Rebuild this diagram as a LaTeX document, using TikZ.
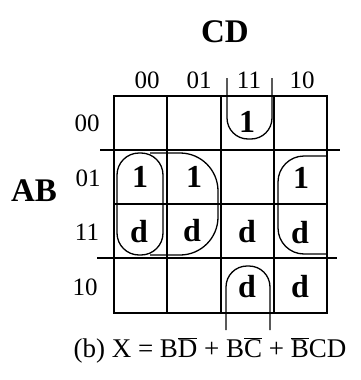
\documentclass[tikz,border=0pt]{standalone}
\usepackage{fontspec}
\setmainfont{Liberation Serif}
\begin{document}
\begin{tikzpicture}[x=1pt,y=-1pt,
  gridline/.style={line width=2.8pt},
  grp/.style={line width=1.3pt},
  cellval/.style={font=\fontsize{32}{32}\selectfont\bfseries, inner sep=0pt},
  idx/.style={font=\fontsize{25}{25}\selectfont, inner sep=0pt},
  varlbl/.style={font=\fontsize{33}{33}\selectfont\bfseries, inner sep=0pt}]
\useasboundingbox (0,0) rectangle (360,380);
% grid
\coordinate (g00) at (114,96);
\coordinate (g11) at (327,313);
\draw[gridline] (g00) rectangle (g11);
\foreach \xx in {167,221,274} \draw[gridline] (\xx,96) -- (\xx,313);
\draw[gridline] (114,204) -- (327,204);
\draw[gridline] (100,150) -- (340,150);
\draw[gridline] (97,258) -- (337,258);
% labels
\node[varlbl] (cd) at (225,32) {CD};
\node[varlbl] (ab) at (34,191) {AB};
\node[idx] (c00) at (147,80) {00};
\node[idx] (c01) at (199,80) {01};
\node[idx] (c11) at (249,80) {11};
\node[idx] (c10) at (302,80) {10};
\node[idx] (r00) at (87,123) {00};
\node[idx] (r01) at (88,178) {01};
\node[idx] (r11) at (87,232) {11};
\node[idx] (r10) at (85,287) {10};
% cells
\node[cellval] (v0011) at (247,122) {1};
\node[cellval] (v0100) at (140,177) {1};
\node[cellval] (v0101) at (194,177) {1};
\node[cellval] (v0110) at (301,178) {1};
\node[cellval] (v1100) at (139,232) {d};
\node[cellval] (v1101) at (192,231) {d};
\node[cellval] (v1111) at (247,232) {d};
\node[cellval] (v1110) at (300,233) {d};
\node[cellval] (v1011) at (247,287) {d};
\node[cellval] (v1010) at (300,287) {d};
% groups
\draw[grp, rounded corners=22] (117,153) rectangle (163,255);
\draw[grp, rounded corners=38] (150,153) -- (218,153) -- (218,255) -- (150,255);
\draw[grp, rounded corners=26] (327,156) -- (278,156) -- (278,254) -- (327,254);
\draw[grp, rounded corners=21] (227,78) -- (227,139) -- (272,139) -- (272,78);
\draw[grp, rounded corners=21] (226,330) -- (226,266) -- (270,266) -- (270,330);
% equation
\node[font=\fontsize{27}{27}\selectfont, anchor=base, inner sep=0pt] (eq) at (210,357)
  {(b) X = B$\overline{\mbox{D}}$ + B$\overline{\mbox{C}}$ + $\overline{\mbox{B}}$CD};
\end{tikzpicture}
\end{document}
